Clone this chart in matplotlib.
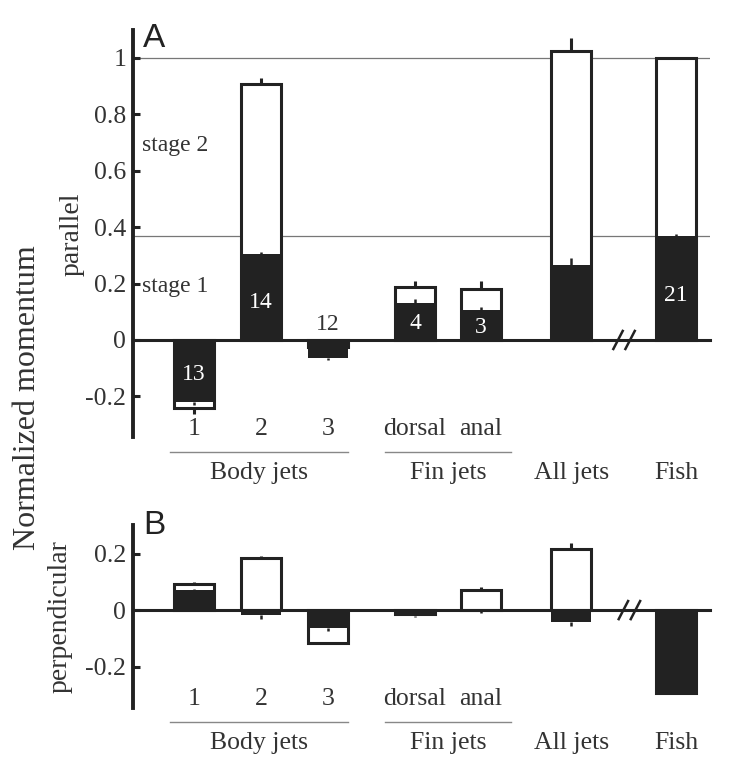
import numpy as np
import matplotlib
matplotlib.use('Agg')
import matplotlib.pyplot as plt

matplotlib.rcParams['font.family'] = ['Liberation Serif', 'DejaVu Serif']

# bar positions: body jets 1-3, dorsal, anal, all jets, fish
jet_labels = ['1', '2', '3', 'dorsal', 'anal']
group_labels = ['Body jets', 'Fin jets', 'All jets', 'Fish']
n_counts = ['13', '14', '12', '4', '3', '', '21']

# parallel momentum (panel A)
par_stage1 = [-0.22, 0.305, -0.064, 0.132, 0.106, 0.266, 0.369]
par_stage1_err = [0.01, 0.008, 0.008, 0.013, 0.01, 0.024, 0.008]
par_total = [-0.241, 0.908, -0.024, 0.189, 0.18, 1.025, 1.0]
par_total_err = [0.02, 0.022, 0.0, 0.02, 0.029, 0.045, 0.0]

# perpendicular momentum (panel B)
perp_stage1 = [0.071, -0.018, -0.065, -0.02, -0.005, -0.041, -0.293]
perp_stage1_err = [0.005, 0.012, 0.01, 0.004, 0.005, 0.014, 0.006]
perp_total = [0.092, 0.186, -0.118, -0.015, 0.071, 0.216, -0.293]
perp_total_err = [0.008, 0.005, 0.0, 0.0, 0.01, 0.02, 0.0]

xpos = np.array([0, 1, 2, 3.3, 4.28, 5.63, 7.2])
width = 0.6
dark = '#222222'
txt = '#333333'
xmin, xmax = -0.91, 7.7
fs = 18.5


def draw_panel(ax, stage1, stage1_err, total, total_err, ylim, yticks, brk):
    ax.set_xlim(xmin, xmax)
    ax.set_ylim(*ylim)
    ax.bar(xpos, total, width, color='white', edgecolor=dark, linewidth=2.2, zorder=2)
    ax.bar(xpos, stage1, width, color=dark, linewidth=0, zorder=3)
    for x, v, e in zip(xpos, total, total_err):
        if e > 0:
            ax.vlines(x, v, v + np.sign(v) * e, color=dark, lw=2.2, zorder=4)
    for x, v, e in zip(xpos, stage1, stage1_err):
        if e > 0:
            ax.vlines(x, v, v + np.sign(v) * e, color=dark, lw=1.8, zorder=4)
    ax.plot([xmin, xmax], [0, 0], color=dark, lw=2.2, zorder=5, clip_on=False)
    # axis break marks
    for dx in (-0.09, 0.09):
        ax.plot([brk + dx - 0.07, brk + dx + 0.07], [-0.032, 0.032], color=dark, lw=1.8,
                zorder=6, clip_on=False)

    for s in ['top', 'right', 'bottom']:
        ax.spines[s].set_visible(False)
    ax.spines['left'].set_linewidth(2.8)
    ax.spines['left'].set_color(dark)
    ax.set_xticks([])
    ax.set_yticks(yticks)
    ax.set_yticklabels([('%g' % t) for t in yticks])
    ax.tick_params(axis='y', direction='in', length=5, width=2.2, labelsize=fs, pad=5,
                   colors=dark, labelcolor=txt)

    # category labels under the bars
    for x, lab in zip(xpos[:5], jet_labels):
        ax.text(x, -0.315, lab, ha='center', va='center', fontsize=fs, color=txt)
    ax.plot([-0.36, 2.3], [-0.397, -0.397], color='#888888', lw=1, clip_on=False)
    ax.plot([2.85, 4.73], [-0.397, -0.397], color='#888888', lw=1, clip_on=False)
    gx = [0.97, 3.79, xpos[5], xpos[6]]
    for x, lab in zip(gx, group_labels):
        ax.text(x, -0.47, lab, ha='center', va='center', fontsize=fs, color=txt,
                clip_on=False)


fig = plt.figure(figsize=(7.31, 7.70), dpi=100)
axA = fig.add_axes([0.182, 0.4325, 0.789, 0.5285])
axB = fig.add_axes([0.182, 0.0805, 0.789, 0.2375])

draw_panel(axA, par_stage1, par_stage1_err, par_total, par_total_err,
           (-0.344, 1.099), [-0.2, 0, 0.2, 0.4, 0.6, 0.8, 1], 6.42)
draw_panel(axB, perp_stage1, perp_stage1_err, perp_total, perp_total_err,
           (-0.347, 0.301), [-0.2, 0, 0.2], 6.5)

# reference lines at fish values
for ref in (par_total[6], par_stage1[6]):
    axA.plot([xmin, xmax], [ref, ref], color='#777777', lw=0.9, zorder=1)

# number of samples inside bars
for x, v, n in zip(xpos, par_stage1, n_counts):
    if not n:
        continue
    if v < 0 and abs(v) < 0.1:
        axA.text(x, 0.055, n, ha='center', va='center', fontsize=17, color=txt, zorder=7)
    elif v < 0:
        axA.text(x, v * 0.56, n, ha='center', va='center', fontsize=17, color='white', zorder=7)
    else:
        axA.text(x, v * 0.43, n, ha='center', va='center', fontsize=17, color='white', zorder=7)

axA.text(-0.77, 0.69, 'stage 2', fontsize=17, color=txt, ha='left', va='center')
axA.text(-0.77, 0.19, 'stage 1', fontsize=17, color=txt, ha='left', va='center')

fig.text(0.196, 0.95, 'A', fontsize=24, family='Liberation Sans', color=dark, va='center')
fig.text(0.196, 0.318, 'B', fontsize=24, family='Liberation Sans', color=dark, va='center')

fig.text(0.038, 0.484, 'Normalized momentum', rotation=90, fontsize=23, color=txt,
         ha='center', va='center')
fig.text(0.098, 0.696, 'parallel', rotation=90, fontsize=20, color=txt,
         ha='center', va='center')
fig.text(0.082, 0.199, 'perpendicular', rotation=90, fontsize=20, color=txt,
         ha='center', va='center')

fig.savefig('out.png', dpi=100)
